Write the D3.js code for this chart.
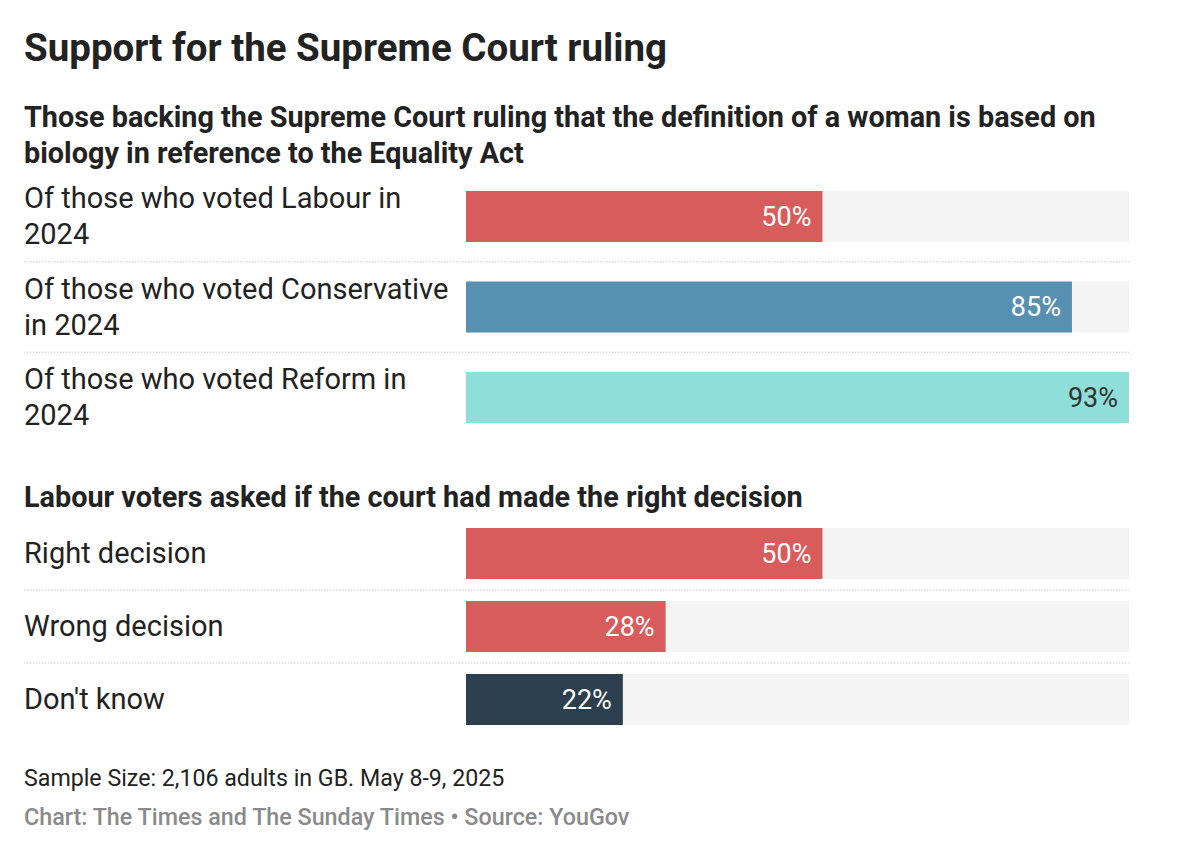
<!DOCTYPE html>
<html>
<head>
<meta charset="utf-8">
<script src="https://cdn.jsdelivr.net/npm/d3@7"></script>
<style>
  body { margin: 0; background: #fff; }
  svg text { font-family: Roboto, "Noto Sans", sans-serif; }
</style>
</head>
<body>
<svg id="chart" width="1200" height="859"></svg>
<script>
const partyLabels = [
  ["Of those who voted Labour in", "2024"],
  ["Of those who voted Conservative", "in 2024"],
  ["Of those who voted Reform in", "2024"]
];
const partyValues = [50, 85, 93];
const partyColors = ["#d95c5c", "#5790b0", "#8edfda"];
const partyTextColors = ["#fff", "#fff", "#333"];

const decisionLabels = [["Right decision"], ["Wrong decision"], ["Don't know"]];
const decisionValues = [50, 28, 22];
const decisionColors = ["#d95c5c", "#d95c5c", "#2b3f4e"];
const decisionTextColors = ["#fff", "#fff", "#fff"];

const svg = d3.select("#chart");
const left = 24;
const barLeft = 466;
const barRight = 1129;
const barHeight = 51;
const maxValue = d3.max(partyValues.concat(decisionValues));

const x = d3.scaleLinear().domain([0, maxValue]).range([barLeft, barRight]);

svg.append("text")
  .attr("x", left).attr("y", 61)
  .attr("font-size", 38.5).attr("font-weight", 700).attr("fill", "#222")
  .text("Support for the Supreme Court ruling");

function heading(lines, y0) {
  lines.forEach((t, i) => {
    svg.append("text")
      .attr("x", left).attr("y", y0 + i * 36)
      .attr("font-size", 28.8).attr("font-weight", 700).attr("fill", "#222")
      .text(t);
  });
}

function block(labels, values, colors, textColors, top, step) {
  const n = values.length;
  const y = d3.scaleBand()
    .domain(d3.range(n))
    .range([top, top + step * (n - 1) + barHeight])
    .paddingInner(1 - barHeight / step).paddingOuter(0);
  const g = svg.append("g");
  const rows = g.selectAll("g.row").data(values).join("g").attr("class", "row");

  rows.append("rect")
    .attr("x", x(0)).attr("y", (d, i) => y(i))
    .attr("width", x(maxValue) - x(0)).attr("height", y.bandwidth())
    .attr("fill", "#f4f4f4");

  rows.append("rect")
    .attr("x", x(0)).attr("y", (d, i) => y(i))
    .attr("width", d => x(d) - x(0)).attr("height", y.bandwidth())
    .attr("fill", (d, i) => colors[i]);

  rows.append("text")
    .attr("x", d => x(d) - 11)
    .attr("y", (d, i) => y(i) + y.bandwidth() / 2 + 9)
    .attr("text-anchor", "end")
    .attr("font-size", 27).attr("fill", (d, i) => textColors[i])
    .text(d => d + "%");

  rows.each(function (d, i) {
    const lines = labels[i];
    const cy = y(i) + y.bandwidth() / 2;
    const startY = cy + 9.5 - (lines.length - 1) * 36 / 2;
    lines.forEach((t, j) => {
      d3.select(this).append("text")
        .attr("x", left).attr("y", startY + j * 36)
        .attr("font-size", 29).attr("fill", "#222")
        .text(t);
    });
    if (i < n - 1) {
      const sy = y(i) + y.bandwidth() + (y.step() - y.bandwidth()) / 2;
      d3.select(this).append("line")
        .attr("x1", left).attr("x2", barRight)
        .attr("y1", sy).attr("y2", sy)
        .attr("stroke", "#ccc").attr("stroke-width", 1.2)
        .attr("stroke-dasharray", "1.5,1.5");
    }
  });
}

heading(["Those backing the Supreme Court ruling that the definition of a woman is based on",
         "biology in reference to the Equality Act"], 127);
block(partyLabels, partyValues, partyColors, partyTextColors, 191, 90.5);

heading(["Labour voters asked if the court had made the right decision"], 507);
block(decisionLabels, decisionValues, decisionColors, decisionTextColors, 528, 73);

svg.append("text")
  .attr("x", left).attr("y", 786)
  .attr("font-size", 23.2).attr("fill", "#222")
  .text("Sample Size: 2,106 adults in GB. May 8-9, 2025");

svg.append("text")
  .attr("x", left).attr("y", 825)
  .attr("font-size", 23.3).attr("font-weight", 500).attr("fill", "#8a8a8a")
  .text("Chart: The Times and The Sunday Times \u2022 Source: YouGov");
</script>
</body>
</html>
